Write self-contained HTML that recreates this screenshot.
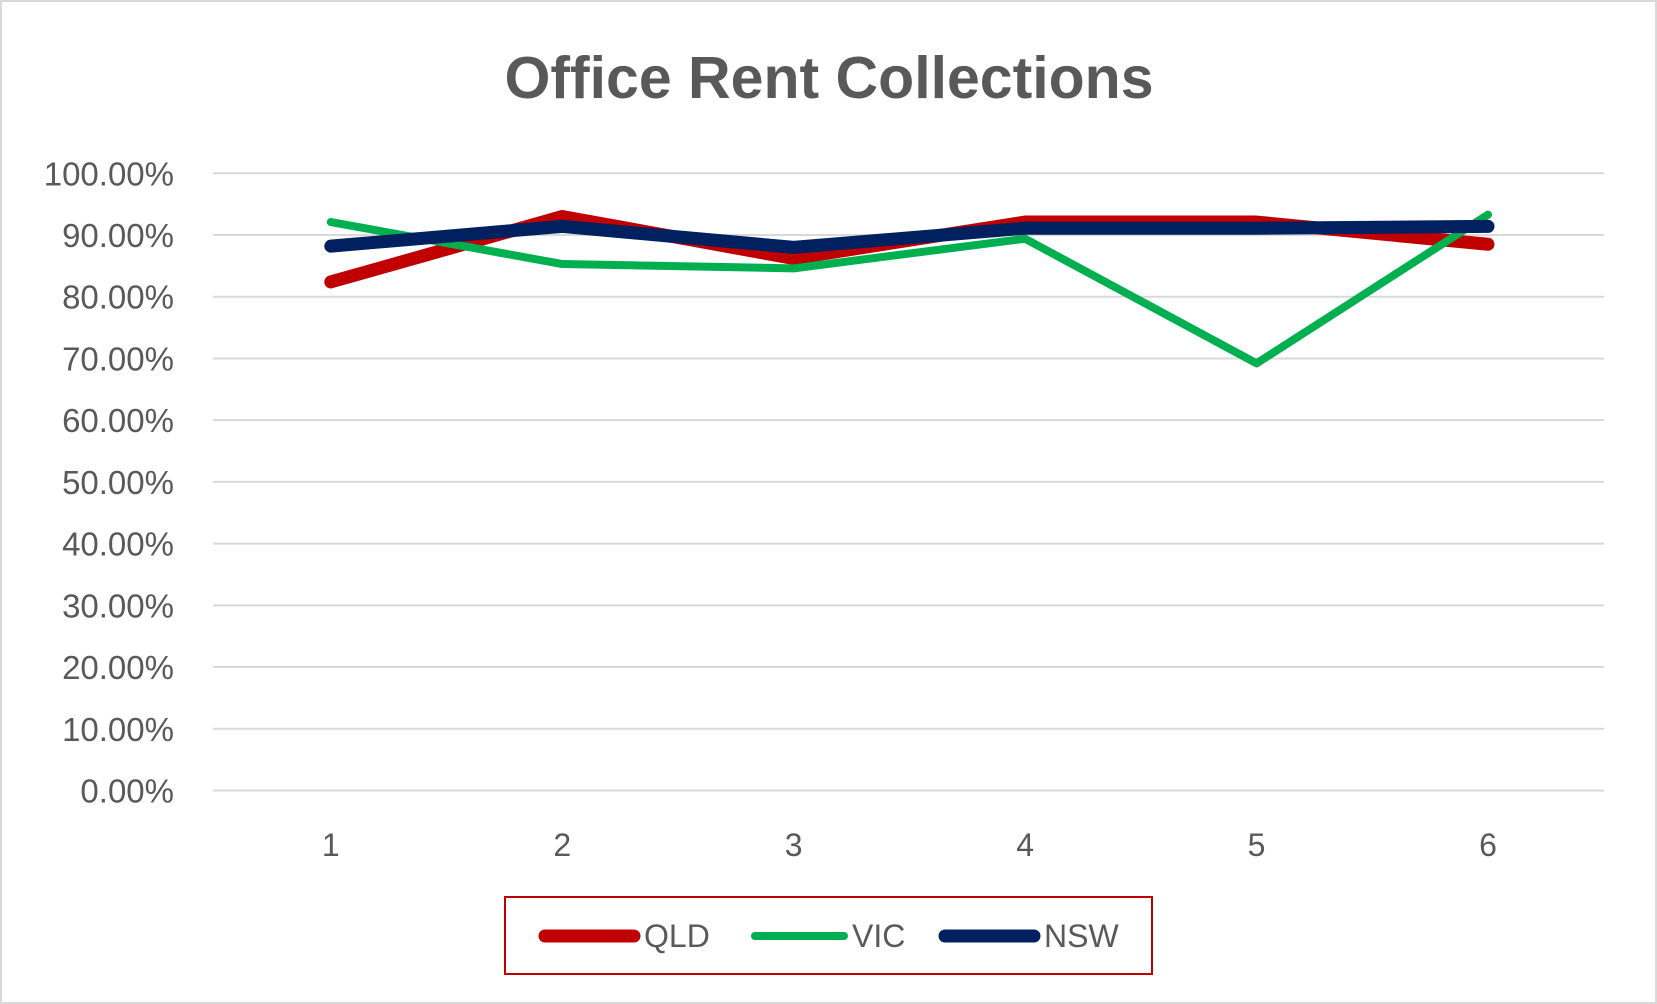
<!DOCTYPE html>
<html><head><meta charset="utf-8"><style>
html,body{margin:0;padding:0;background:#fff;}
svg{display:block;font-family:"Liberation Sans",sans-serif;}
</style></head><body>
<svg id="chart" width="1657" height="1004" viewBox="0 0 1657 1004" xmlns="http://www.w3.org/2000/svg">
<rect x="1" y="1" width="1655" height="1002" fill="#fff" stroke="#d9d9d9" stroke-width="2"/>
<text x="829" y="98" text-anchor="middle" font-size="59" font-weight="bold" fill="#595959">Office Rent Collections</text>
<g id="grid"></g>
<g id="yticks"></g>
<g id="xticks"></g>
<g id="series"></g>
<g>
<rect x="505" y="897" width="647" height="77" fill="none" stroke="#c00000" stroke-width="2"/>
<g>
<line x1="545" y1="936" x2="634" y2="936" stroke="#c00000" stroke-width="13" stroke-linecap="round"/>
<text x="644" y="947" font-size="32" fill="#595959">QLD</text></g>
<g>
<line x1="755" y1="936" x2="844" y2="936" stroke="#00b050" stroke-width="8" stroke-linecap="round"/>
<text x="852" y="947" font-size="32" fill="#595959">VIC</text></g>
<g>
<line x1="945" y1="936" x2="1034" y2="936" stroke="#002060" stroke-width="13" stroke-linecap="round"/>
<text x="1044" y="947" font-size="32" fill="#595959">NSW</text></g>
</g>
</svg>
<script>
const categories = [1, 2, 3, 4, 5, 6];
const qld = [82.4, 93.0, 86.2, 92.1, 92.1, 88.5];
const vic = [92.1, 85.3, 84.6, 89.4, 69.2, 93.3];
const nsw = [88.2, 91.4, 88.0, 91.1, 91.1, 91.4];
const yTicks = [0, 10, 20, 30, 40, 50, 60, 70, 80, 90, 100];

const NS = "http://www.w3.org/2000/svg";
const plotL = 213, plotR = 1604, yTop = 173.3, yBot = 790.5;
const x0 = 330.8, dx = (1488 - 330.8) / 5;
function xs(i){ return x0 + i * dx; }
function ys(v){ return yBot - (v / 100) * (yBot - yTop); }

const grid = document.getElementById('grid');
const yt = document.getElementById('yticks');
yTicks.forEach(t => {
  const l = document.createElementNS(NS, 'line');
  l.setAttribute('x1', plotL); l.setAttribute('x2', plotR);
  l.setAttribute('y1', ys(t)); l.setAttribute('y2', ys(t));
  l.setAttribute('stroke', '#d9d9d9'); l.setAttribute('stroke-width', '2');
  
  
  grid.appendChild(l);
  const tx = document.createElementNS(NS, 'text');
  tx.setAttribute('x', 174); tx.setAttribute('y', ys(t) + 12);
  tx.setAttribute('text-anchor', 'end'); tx.setAttribute('font-size', '33');
  tx.setAttribute('fill', '#595959');
  tx.textContent = t.toFixed(2) + '%';
  
  
  yt.appendChild(tx);
});
const xt = document.getElementById('xticks');
categories.forEach((c, i) => {
  const tx = document.createElementNS(NS, 'text');
  tx.setAttribute('x', xs(i)); tx.setAttribute('y', 856);
  tx.setAttribute('text-anchor', 'middle'); tx.setAttribute('font-size', '32');
  tx.setAttribute('fill', '#595959');
  tx.textContent = c;
  
  
  xt.appendChild(tx);
});
const sg = document.getElementById('series');
function drawLine(vals, color, w, name){
  const p = document.createElementNS(NS, 'polyline');
  p.setAttribute('points', vals.map((v, i) => xs(i) + ',' + ys(v)).join(' '));
  p.setAttribute('fill', 'none'); p.setAttribute('stroke', color);
  p.setAttribute('stroke-width', w); p.setAttribute('stroke-linecap', 'round');
  p.setAttribute('stroke-linejoin', 'round');
  
  
  sg.appendChild(p);
}
drawLine(qld, '#c00000', 13, 'qld-line');
drawLine(vic, '#00b050', 8, 'vic-line');
drawLine(nsw, '#002060', 13, 'nsw-line');
</script>
</body></html>
